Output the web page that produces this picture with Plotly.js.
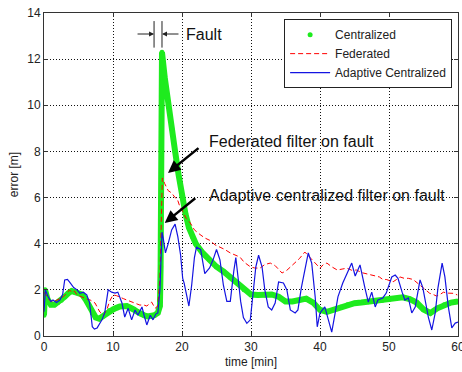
<!DOCTYPE html>
<html>
<head>
<meta charset="utf-8">
<script src="https://cdn.plot.ly/plotly-3.0.1.min.js"></script>
<style>html,body{margin:0;padding:0;background:#fff;}#chart{width:462px;height:372px;}</style>
</head>
<body>
<div id="chart"></div>
<script>
// Centralized filter error
var centralT = [0,0.15,0.5,1.0,1.5,2.0,2.5,3.0,3.5,4.0,4.5,5.0,5.5,6.0,6.5,7.0,7.5,8.0,8.5,9.0,9.5,10.0,10.5,11.0,12.0,12.5,13.0,13.5,14.0,14.5,15.0,15.5,16.0,16.5,16.8,16.9,17.0,17.05,17.1,17.5,18.0,18.5,19.0,19.5,20.0,20.5,21.0,21.5,22.0,23.0,24.0,25.0,26.0,27.0,28.0,29.0,30.0,31.0,32.0,33.0,34.0,35.0,36.0,37.0,38.0,39.0,40.0,41.0,42.0,43.0,44.0,45.0,46.0,47.0,48.0,49.0,50.0,51.0,52.0,53.0,54.0,55.0,56.0,57.0,58.0,59.0,60.0];
var centralE = [0.9,2.0,1.6,1.35,1.35,1.45,1.55,1.7,1.85,1.95,1.9,1.85,1.8,1.6,1.35,1.0,0.8,0.75,0.85,1.0,1.1,1.15,1.22,1.28,1.3,1.25,1.15,1.05,0.95,0.9,0.85,0.85,0.9,1.0,1.3,3.0,8.0,11.0,12.3,11.2,10.0,9.0,8.0,7.0,6.1,5.3,4.7,4.3,4.0,3.6,3.3,3.0,2.8,2.55,2.3,2.0,1.8,1.78,1.78,1.8,1.7,1.5,1.5,1.55,1.62,1.45,1.13,1.05,1.15,1.25,1.35,1.42,1.45,1.48,1.5,1.55,1.58,1.62,1.68,1.6,1.45,1.15,1.0,1.2,1.35,1.45,1.5];

// Federated filter error
var fedT = [0,0.4,0.8,1.3,1.8,2.3,2.8,3.3,3.7,4.0,4.4,4.8,5.2,5.7,6.2,6.7,7.0,7.4,7.8,8.1,8.6,9.1,9.5,10.0,10.5,11.0,11.5,12.0,12.5,12.9,13.4,13.9,14.4,14.9,15.3,15.6,16.1,16.5,16.8,17.0,17.15,17.5,18.0,18.5,19.0,19.3,19.7,20.1,20.6,21.2,21.8,22.6,23.3,24.0,24.8,25.5,26.2,27.0,27.7,28.4,29.0,29.5,29.9,30.5,31.3,32.0,32.8,33.5,34.0,34.5,35.2,36.1,37.0,37.8,38.4,39.0,39.5,40.0,40.5,41.0,41.7,42.5,43.2,43.9,44.6,45.3,46.0,46.8,47.5,48.2,48.6,49.1,49.6,50.1,50.6,51.1,51.6,52.2,52.8,53.5,54.0,54.5,54.9,55.5,55.9,56.4,56.9,57.4,57.9,58.4,58.8,59.3,59.9];
var fedE = [1.9,1.75,1.55,1.47,1.55,1.62,1.7,1.85,2.0,1.9,1.95,1.78,1.72,1.65,1.6,1.56,1.5,1.43,1.2,1.04,0.9,1.13,1.5,1.78,1.75,1.7,1.62,1.56,1.5,1.43,1.38,1.34,1.35,1.3,1.4,1.47,1.2,1.3,2.5,5.5,6.85,6.6,6.3,6.2,6.0,5.95,5.6,5.4,5.1,4.9,4.6,4.4,4.25,4.15,3.95,3.85,3.75,3.6,3.5,3.42,3.2,3.1,3.0,2.95,2.94,3.1,3.16,3.05,2.9,2.73,2.85,3.08,3.35,3.64,3.45,3.3,3.1,2.94,3.1,3.16,3.0,2.86,2.9,2.94,2.85,2.86,2.75,2.7,2.65,2.6,2.56,2.45,2.45,2.4,2.35,2.45,2.56,2.5,2.5,2.45,2.34,2.2,2.1,1.95,1.85,1.8,1.73,1.8,1.9,1.86,1.87,1.85,1.78];

// Adaptive centralized filter error
var adaT = [0,0.2,0.6,1.0,1.3,1.8,2.3,2.7,3.0,3.4,3.8,4.3,4.8,5.2,5.7,6.2,6.6,6.8,7.0,7.3,7.7,8.1,8.4,8.8,9.1,9.3,9.8,10.3,10.7,11.0,11.3,11.7,12.2,12.7,13.2,13.6,14.2,14.5,14.9,15.4,15.8,16.2,16.5,16.8,17.0,17.1,17.3,17.6,18.0,18.5,19.0,19.4,19.8,20.1,20.3,20.6,21.0,21.4,21.8,22.1,22.7,23.3,24.0,24.5,25.0,25.5,26.0,26.5,27.0,27.5,27.8,28.1,28.5,28.9,29.4,29.9,30.3,30.7,31.1,31.6,32.0,32.5,33.0,33.5,34.0,34.7,35.2,35.7,36.4,36.8,37.3,37.8,38.3,38.8,39.3,39.6,40.0,40.7,41.2,41.7,42.2,42.6,43.3,43.9,44.6,45.1,45.8,46.5,47.0,47.5,48.0,48.4,49.1,49.6,50.4,50.9,51.3,51.9,52.3,52.8,53.3,53.8,54.5,54.9,55.7,56.2,56.7,57.1,57.7,58.1,58.6,59.1,59.6,60.0];
var adaE = [1.05,2.0,1.7,1.5,1.56,1.45,1.56,1.8,2.43,2.45,2.3,2.1,2.0,1.85,1.9,1.78,1.45,0.8,0.4,0.3,0.35,0.55,0.7,1.0,1.6,2.0,1.9,1.86,1.9,1.7,1.43,0.82,1.2,0.7,1.13,0.9,1.26,0.9,0.48,0.9,0.7,0.95,1.0,2.0,4.0,4.5,4.2,3.6,4.0,4.6,4.85,4.3,3.5,2.5,2.3,1.8,1.3,2.2,3.4,3.85,3.75,2.7,2.95,3.3,3.75,3.3,2.2,1.5,1.5,2.8,3.4,2.6,1.5,0.8,0.55,0.7,2.0,3.0,3.5,3.0,2.0,1.26,1.13,1.43,2.34,2.3,2.0,1.13,1.0,1.13,2.1,2.86,3.6,3.16,1.7,0.4,1.0,1.26,0.7,0.17,1.0,1.7,2.3,2.73,3.16,2.6,3.08,2.1,1.47,1.9,1.26,1.56,1.65,1.86,2.56,2.64,2.5,1.9,1.56,1.65,1.0,1.26,2.43,2.1,0.82,0.26,1.0,2.1,3.16,2.56,1.26,0.35,0.56,0.6];

var xTicks = [0,10,20,30,40,50,60];
var yTicks = [0,2,4,6,8,10,12,14];
var seriesNames = ['Centralized','Federated','Adaptive Centralized'];

var FONT = 'Arial, "Liberation Sans", sans-serif';
var green = 'rgb(30,235,30)';

var traces = [
  {x: centralT, y: centralE, type: 'scatter', mode: 'lines', line: {color: green, width: 6}, showlegend: false, hoverinfo: 'skip'},
  {x: centralT, y: centralE, type: 'scatter', mode: 'markers', name: seriesNames[0], marker: {color: green, size: 5}},
  {x: fedT, y: fedE, type: 'scatter', mode: 'lines', name: seriesNames[1], line: {color: 'rgb(255,0,0)', width: 1, dash: '5px,3px'}},
  {x: adaT, y: adaE, type: 'scatter', mode: 'lines', name: seriesNames[2], line: {color: 'rgb(20,20,225)', width: 1.2}}
];

var axisCommon = {
  showline: true, mirror: 'ticks', linecolor: '#333', linewidth: 1,
  ticks: 'inside', ticklen: 4, tickcolor: '#333',
  showgrid: true, gridcolor: '#111', griddash: '1px,2px', gridwidth: 1,
  zeroline: false, ticklabeloverflow: 'allow',
  tickfont: {family: FONT, size: 12, color: '#222'}
};

var layout = {
  width: 462, height: 372,
  margin: {l: 44, r: 4, t: 13, b: 36},
  paper_bgcolor: '#fff', plot_bgcolor: '#fff',
  font: {family: FONT, color: '#222'},
  xaxis: Object.assign({}, axisCommon, {
    range: [0, 60], tickvals: xTicks, ticktext: xTicks.map(String),
    title: {text: 'time [min]', font: {family: FONT, size: 12, color: '#222'}, standoff: 4}
  }),
  yaxis: Object.assign({}, axisCommon, {
    range: [0, 14], tickvals: yTicks, ticktext: yTicks.map(String),
    title: {text: 'error [m]', font: {family: FONT, size: 12, color: '#222'}, standoff: 6}
  }),
  legend: {
    x: 0.58, y: 0.981, xanchor: 'left', yanchor: 'top',
    bgcolor: '#fff', bordercolor: '#222', borderwidth: 1,
    font: {family: FONT, size: 12, color: '#222'},
    itemwidth: 40, tracegroupgap: 0
  },
  shapes: [
    {type: 'line', xref: 'x', yref: 'y', x0: 15.95, x1: 15.95, y0: 12.5, y1: 13.65, line: {color: '#222', width: 1}},
    {type: 'line', xref: 'x', yref: 'y', x0: 17.1, x1: 17.1, y0: 12.5, y1: 13.65, line: {color: '#222', width: 1}}
  ],
  annotations: [
    {x: 15.95, y: 13.09, xref: 'x', yref: 'y', text: '', showarrow: true, ax: -18, ay: 0, arrowhead: 2, arrowsize: 1, arrowwidth: 1, arrowcolor: '#222'},
    {x: 17.1, y: 13.09, xref: 'x', yref: 'y', text: '', showarrow: true, ax: 18, ay: 0, arrowhead: 2, arrowsize: 1, arrowwidth: 1, arrowcolor: '#222'},
    {x: 20.3, y: 13.09, xref: 'x', yref: 'y', text: 'Fault', showarrow: false, xanchor: 'left', yanchor: 'middle', font: {family: FONT, size: 16, color: '#111'}},
    {x: 17.97, y: 7.07, xref: 'x', yref: 'y', text: '', showarrow: true, ax: 32, ay: -26, arrowhead: 2, arrowsize: 1, arrowwidth: 2.5, arrowcolor: '#000'},
    {x: 17.5, y: 4.9, xref: 'x', yref: 'y', text: '', showarrow: true, ax: 32, ay: -26, arrowhead: 2, arrowsize: 1, arrowwidth: 2.5, arrowcolor: '#000'},
    {x: 23.62, y: 8.41, xref: 'x', yref: 'y', text: 'Federated filter on fault', showarrow: false, xanchor: 'left', yanchor: 'middle', font: {family: FONT, size: 16, color: '#111'}},
    {x: 23.62, y: 6.07, xref: 'x', yref: 'y', text: 'Adaptive centralized filter on fault', showarrow: false, xanchor: 'left', yanchor: 'middle', font: {family: FONT, size: 16, color: '#111'}}
  ]
};

Plotly.newPlot('chart', traces, layout, {displayModeBar: false, staticPlot: true});
</script>
</body>
</html>
